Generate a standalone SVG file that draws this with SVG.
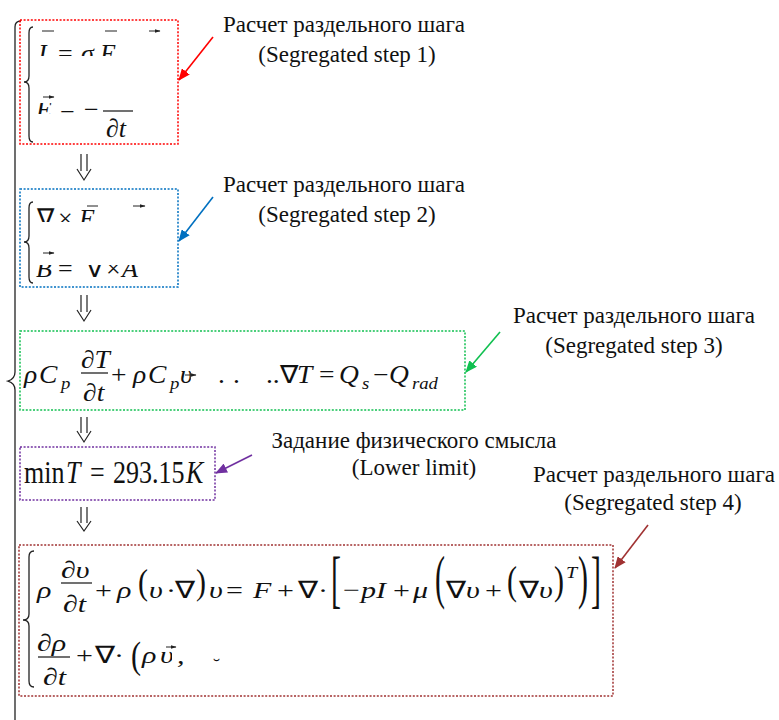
<svg xmlns="http://www.w3.org/2000/svg" width="779" height="720" viewBox="0 0 779 720">
<style>
svg{background:#fff}
.lbl{font-family:"Liberation Serif","Times New Roman",serif;font-size:23px;fill:#111;text-anchor:middle}
.m{font-family:"Liberation Serif","Times New Roman",serif;font-size:26px;fill:#111}
.i{font-style:italic}
.s{font-size:17px}
.box{fill:none;stroke-width:1.5;stroke-dasharray:2 1.6}
.brace{fill:none;stroke:#222;stroke-width:1.3}
.vec{stroke:#222;stroke-width:1;fill:none;marker-end:url(#vh)}
.dn{fill:none;stroke:#222;stroke-width:1.2}
.bar{stroke:#111;stroke-width:1.2}
.call{fill:none;stroke-width:1.6}
</style>
<defs>
<marker id="vh" viewBox="0 0 6 4" refX="5.5" refY="2" markerWidth="6" markerHeight="4" markerUnits="userSpaceOnUse" orient="auto"><path d="M0,0L6,2L0,4z" fill="#222"/></marker>
<marker id="aR" viewBox="0 0 12 10" refX="11" refY="5" markerWidth="12" markerHeight="10" markerUnits="userSpaceOnUse" orient="auto"><path d="M0,0L12,5L0,10z" fill="#ff0000"/></marker>
<marker id="aB" viewBox="0 0 12 10" refX="11" refY="5" markerWidth="12" markerHeight="10" markerUnits="userSpaceOnUse" orient="auto"><path d="M0,0L12,5L0,10z" fill="#0070c0"/></marker>
<marker id="aG" viewBox="0 0 12 10" refX="11" refY="5" markerWidth="12" markerHeight="10" markerUnits="userSpaceOnUse" orient="auto"><path d="M0,0L12,5L0,10z" fill="#10c050"/></marker>
<marker id="aP" viewBox="0 0 12 10" refX="11" refY="5" markerWidth="12" markerHeight="10" markerUnits="userSpaceOnUse" orient="auto"><path d="M0,0L12,5L0,10z" fill="#7030a0"/></marker>
<marker id="aD" viewBox="0 0 12 10" refX="11" refY="5" markerWidth="12" markerHeight="10" markerUnits="userSpaceOnUse" orient="auto"><path d="M0,0L12,5L0,10z" fill="#a03232"/></marker>
<clipPath id="c1a"><rect x="20" y="40" width="158" height="16"/></clipPath>
<clipPath id="c1b"><rect x="20" y="103" width="40" height="11"/></clipPath>
<clipPath id="c1c"><rect x="55" y="110" width="30" height="4"/></clipPath>
<clipPath id="c2a"><rect x="20" y="198" width="158" height="24"/></clipPath>
<clipPath id="c2b"><rect x="20" y="265" width="158" height="20"/></clipPath>
<clipPath id="c3u"><rect x="159" y="360" width="14.5" height="40"/></clipPath>
<clipPath id="c5u"><rect x="124" y="640" width="13.6" height="40"/></clipPath>
</defs>

<path class="brace" d="M21,21 Q15,21 15,27 V372 Q15,379 8,381 Q15,383 15,390 V720"/>

<g id="step1">
<rect class="box" x="20" y="20" width="158" height="124" stroke="#ff0000"/>
<path class="brace" d="M33,27 Q29,27 29,33 V76 Q29,82 24,82 Q29,82 29,88 V136 Q29,142 33,142"/>
<g clip-path="url(#c1a)">
<text class="m i" x="35" y="62">J</text><text class="m" x="58" y="62">=</text><text class="m i" x="81" y="62">σ</text><text class="m i" x="100" y="62">E</text>
</g>
<path class="vec" d="M42,31H54M105,31H117M149,31H160"/>
<text class="m i" x="36" y="118" clip-path="url(#c1b)">E</text>
<text class="m" x="60" y="118" clip-path="url(#c1c)">=</text>
<text class="m" x="84" y="118">−</text>
<line class="bar" x1="103" y1="111" x2="133" y2="111"/>
<text class="m i" x="106" y="137">∂t</text>
<path class="vec" d="M43,97H54"/>
</g>

<g id="step2">
<rect class="box" x="20" y="189" width="158" height="98" stroke="#0070c0"/>
<path class="brace" d="M33,202 Q29,202 29,208 V236 Q29,242 24,242 Q29,242 29,248 V277 Q29,283 33,283"/>
<g clip-path="url(#c2a)">
<text class="m" x="37" y="227">∇</text><text class="m" x="58" y="227">×</text><text class="m i" x="79" y="227">E</text>
</g>
<path class="vec" d="M87,206H98M133,206H145"/>
<g clip-path="url(#c2b)">
<text class="m i" x="36" y="277">B</text><text class="m" x="58" y="277">=</text><text class="m" x="86" y="277">∇</text><text class="m" x="106" y="277">×</text><text class="m i" x="122" y="277">A</text>
</g>
<path class="vec" d="M43,253H54"/>
</g>

<g id="step3">
<rect class="box" x="20" y="331" width="445" height="79" stroke="#10c050"/>
<g transform="scale(1.1,1)" style="font-size:25px">
<text class="m i" x="21.8" y="383" style="font-size:25px">ρ</text><text class="m i" x="35.5" y="383" style="font-size:25px">C</text><text class="m i s" x="55.5" y="389">p</text>
<text class="m i" x="73.6" y="368" style="font-size:25px">∂T</text>
<text class="m i" x="75.5" y="401" style="font-size:25px">∂t</text>
<text class="m" x="100.9" y="383" style="font-size:25px">+</text>
<text class="m i" x="120.9" y="383" style="font-size:25px">ρ</text><text class="m i" x="134.5" y="383" style="font-size:25px">C</text><text class="m i s" x="154.5" y="389">p</text>
<text class="m i" x="163.6" y="383" clip-path="url(#c3u)" style="font-size:25px">υ</text>
<text class="m" x="198.2" y="383" style="font-size:25px">.</text><text class="m" x="211.8" y="383" style="font-size:25px">.</text><text class="m" x="241.8" y="383" style="font-size:25px">..</text>
<text class="m" x="254.5" y="383" style="font-size:25px">∇</text><text class="m i" x="270" y="383" style="font-size:25px">T</text>
<text class="m" x="290" y="383" style="font-size:25px">=</text>
<text class="m i" x="308.2" y="383" style="font-size:25px">Q</text><text class="m i s" x="329.1" y="389">s</text>
<text class="m" x="339.1" y="383" style="font-size:25px">−</text>
<text class="m i" x="353.6" y="383" style="font-size:25px">Q</text><text class="m i s" x="374.5" y="389">rad</text>
</g>
<line class="bar" x1="81" y1="373" x2="108" y2="373"/>
<path class="vec" d="M185,375H196"/>
</g>

<g id="limit">
<rect class="box" x="20" y="447" width="195" height="53" stroke="#7030a0"/>
<g transform="translate(0,483) scale(1,1.22)">
<text class="m" x="24" y="0">min</text>
<text class="m i" x="66" y="0">T</text>
<text class="m" x="90" y="0">=</text>
<text class="m" x="113" y="0">293.15</text>
<text class="m i" x="186" y="0">K</text>
</g>
</g>

<g id="step4">
<rect class="box" x="19" y="545" width="594" height="151" stroke="#a03232"/>
<path class="brace" d="M34,551 Q29,551 29,557 V614 Q29,620 23,620 Q29,620 29,626 V681 Q29,687 34,687"/>
<g transform="scale(1.25,1)">
<text class="m i" x="29.6" y="598" style="font-size:24px">ρ</text>
<text class="m i" x="48.8" y="578" style="font-size:24px">∂υ</text>
<text class="m i" x="50.4" y="612" style="font-size:24px">∂t</text>
<text class="m" x="76" y="598" style="font-size:24px">+</text>
<text class="m i" x="93.6" y="598" style="font-size:24px">ρ</text>
<text class="m" transform="translate(110.4,594) scale(1,1.5)" style="font-size:24px">(</text>
<text class="m i" x="119.2" y="598" style="font-size:24px">υ</text>
<text class="m" x="132.8" y="598" style="font-size:24px">·</text>
<text class="m" x="140" y="598" style="font-size:24px">∇</text>
<text class="m" transform="translate(156.8,594) scale(1,1.5)" style="font-size:24px">)</text>
<text class="m i" x="167.2" y="598" style="font-size:24px">υ</text>
<text class="m" x="180.8" y="598" style="font-size:24px">=</text>
<text class="m i" x="202.4" y="598" style="font-size:24px">F</text>
<text class="m" x="221.6" y="598" style="font-size:24px">+</text>
<text class="m" x="238.4" y="598" style="font-size:24px">∇</text>
<text class="m" x="254.4" y="598" style="font-size:24px">·</text>
<text class="m" transform="translate(264.8,600) scale(1,2.6)" style="font-size:24px">[</text>
<text class="m" x="274.4" y="598" style="font-size:24px">−</text>
<text class="m i" x="288.8" y="598" style="font-size:24px">p</text>
<text class="m i" x="300.8" y="598" style="font-size:24px">I</text>
<text class="m" x="314.4" y="598" style="font-size:24px">+</text>
<text class="m i" x="330.4" y="598" style="font-size:24px">μ</text>
<text class="m" transform="translate(348,597) scale(1,2.45)" style="font-size:24px">(</text>
<text class="m" x="356.8" y="598" style="font-size:24px">∇</text>
<text class="m i" x="372.8" y="598" style="font-size:24px">υ</text>
<text class="m" x="388" y="598" style="font-size:24px">+</text>
<text class="m" transform="translate(405.6,594) scale(1,1.7)" style="font-size:24px">(</text>
<text class="m" x="415.2" y="598" style="font-size:24px">∇</text>
<text class="m i" x="431.2" y="598" style="font-size:24px">υ</text>
<text class="m" transform="translate(443.2,594) scale(1,1.7)" style="font-size:24px">)</text>
<text class="m i s" x="452.8" y="578" style="font-size:16px">T</text>
<text class="m" transform="translate(462.4,597) scale(1,2.45)" style="font-size:24px">)</text>
<text class="m" transform="translate(472.8,600) scale(1,2.6)" style="font-size:24px">]</text>
<text class="m i" x="29.6" y="651" style="font-size:24px">∂ρ</text>
<text class="m i" x="34.4" y="685" style="font-size:24px">∂t</text>
<text class="m" x="60.8" y="663" style="font-size:24px">+</text>
<text class="m" x="76" y="663" style="font-size:24px">∇</text>
<text class="m" x="91.2" y="663" style="font-size:24px">·</text>
<text class="m" transform="translate(104.8,668) scale(1,1.55)" style="font-size:24px">(</text>
<text class="m i" x="113.6" y="663" style="font-size:24px">ρ</text>
<text class="m i" x="128" y="663" clip-path="url(#c5u)" style="font-size:24px">υ</text>
<text class="m i" x="141.6" y="663" style="font-size:24px">,</text>
<text class="m s" x="170.4" y="670">˘</text>
</g>
<line class="bar" x1="61" y1="583" x2="92" y2="583"/>
<line class="bar" x1="38" y1="657" x2="70" y2="657"/>
<path class="vec" d="M166,647H176"/>
</g>

<g id="connectors">
<path class="dn" d="M81,154V171M87,154V171M77,169L84,180L91,169"/>
<path class="dn" d="M81,295V312M87,295V312M77,310L84,321L91,310"/>
<path class="dn" d="M81,417V433M87,417V433M77,431L84,442L91,431"/>
<path class="dn" d="M81,507V523M87,507V523M77,521L84,531L91,521"/>
<line class="call" x1="213" y1="37" x2="179" y2="80" stroke="#ff0000" marker-end="url(#aR)"/>
<line class="call" x1="213" y1="197" x2="179" y2="241" stroke="#0070c0" marker-end="url(#aB)"/>
<line class="call" x1="500" y1="332" x2="466" y2="372" stroke="#10c050" marker-end="url(#aG)"/>
<line class="call" x1="252" y1="455" x2="216" y2="473" stroke="#7030a0" marker-end="url(#aP)"/>
<line class="call" x1="648" y1="525" x2="615" y2="568" stroke="#a03232" marker-end="url(#aD)"/>
</g>

<g id="label1"><text class="lbl" x="344" y="32">Расчет раздельного шага</text><text class="lbl" x="347" y="62">(Segregated step 1)</text></g>
<g id="label2"><text class="lbl" x="344" y="192">Расчет раздельного шага</text><text class="lbl" x="347" y="222">(Segregated step 2)</text></g>
<g id="label3"><text class="lbl" x="634" y="323">Расчет раздельного шага</text><text class="lbl" x="634" y="353">(Segregated step 3)</text></g>
<g id="label4"><text class="lbl" x="414" y="448">Задание физического смысла</text><text class="lbl" x="414" y="475">(Lower limit)</text></g>
<g id="label5"><text class="lbl" x="654" y="482">Расчет раздельного шага</text><text class="lbl" x="653" y="510">(Segregated step 4)</text></g>
</svg>
